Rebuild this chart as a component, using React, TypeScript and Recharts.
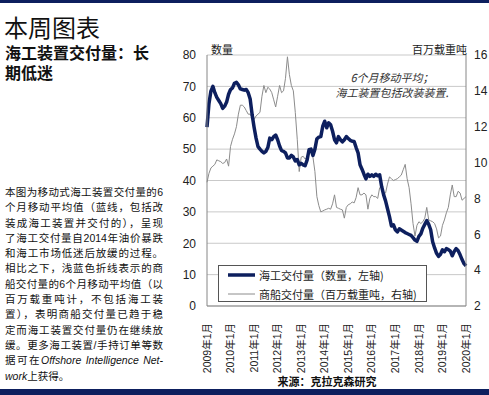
import { CartesianGrid, Line, LineChart, XAxis, YAxis } from "recharts";

// 6-month moving averages, monthly from 2009-01 to 2020-01
const offshoreUnits = [
  57, 64.5, 68.5, 70, 68, 66.5, 65.5, 64.5, 63, 63.7, 65, 67.5,
  69, 69.5, 71, 71.3, 70.5, 69.2, 69, 68.8, 69, 68, 66, 61,
  57, 53.5, 50.8, 50, 49.3, 48.8, 49.3, 50.5, 53.5, 53, 54, 54.5,
  53, 51, 49.5, 49.3, 48.8, 47.2, 47.2, 48, 47.5, 46.2, 46.7, 45,
  45.5, 45, 44.7, 46.5, 49.8, 50, 48, 50, 53.3, 53.8, 54, 57.3,
  58.9, 56.8, 58.4, 57.8, 55.7, 53, 52, 54, 53, 52.3, 53, 54,
  53.4, 52.8, 52.5, 52.4, 50.5, 48.8, 45, 43.6, 42, 40.5, 42, 41.3,
  41.8, 41.3, 42, 41.5, 41.8, 38.1, 35.5, 33.5, 31, 28.5, 25.5, 25.9,
  24.3, 23.6, 24.6, 24.2, 23.8, 23.4, 23.1, 22.8, 22.5, 21.8, 21, 20.6,
  22.2, 23, 24.8, 26, 27.2, 26, 24.3, 20.5, 18.5, 16.8, 15.8, 16.5,
  17.9, 17.3, 18.3, 18, 17.5, 16, 17.4, 18.3, 17.6, 16.3, 14.8, 13.5,
  12.8,
];

const merchantDwt = [
  8.9, 9.4, 9.7, 9.8, 9.9, 10.15, 10.1, 10.05, 9.95, 10, 10.2, 9.8,
  10.9, 11.3, 11.6, 12, 12.7, 13.2, 13.2, 13.1, 12.9, 12.7, 12.7, 12.5,
  12.4, 12.6, 12.7, 12.8, 13.7, 14.3, 13.9, 14.2, 14.1, 13.9, 13.5, 13.1,
  13.7, 14.3, 13.9, 14, 14.7, 15.9, 14.9, 14.3, 14, 12.8, 11.3, 9.5,
  10.3, 10.35, 10.2, 10.3, 10.6, 10.7, 10.3, 9.5, 8.1, 7.6, 7.25, 7.3,
  7.36, 7.4, 7.45, 7.4, 7.7, 8.2, 7.5, 7.45, 7.4, 7.36, 6.9, 7.5,
  7.65, 7.7, 7.8, 7.75, 8.05, 8.6, 8.2, 8.2, 8.3, 8.2, 7.4, 8,
  8.2, 8.1, 8.1, 8, 8.6, 8.7, 8.2, 8.3, 8.8, 9.2, 9.1, 9,
  9.05, 9.1, 9.2, 9.3, 9.6, 9.9, 9.1, 8.6, 7.7, 6.6, 5.9, 6.5,
  6.7, 6.6, 6.7, 6.9, 7.5, 6.8, 6.75, 6.7, 6.6, 6.3, 5.8, 5.9,
  6.5, 6.8, 7.2, 7.5, 8.2, 8.75, 8.1, 8.1, 8.4, 8.3, 7.9, 8,
  8.1,
];

const firstYear = 2009;
const monthLabels = offshoreUnits.map(
  (_, i) => `${firstYear + Math.floor(i / 12)}年${(i % 12) + 1}月`
);

const leftTicks = [0, 10, 20, 30, 40, 50, 60, 70, 80];
const rightTicks = [2, 4, 6, 8, 10, 12, 14, 16];

const seriesNames = ["海工交付量（数量，左轴)", "商船交付量（百万载重吨，右轴)"];

const paragraphLines = [
  "本图为移动式海工装置交付量的6",
  "个月移动平均值（蓝线，包括改",
  "装成海工装置并交付的），呈现",
  "了海工交付量自2014年油价暴跌",
  "和海工市场低迷后放缓的过程。",
  "相比之下，浅蓝色折线表示的商",
  "船交付量的6个月移动平均值（以",
  "百万载重吨计，不包括海工装",
  "置），表明商船交付量已趋于稳",
  "定而海工装置交付量仍在继续放",
  "缓。更多海工装置/手持订单等数",
];

const data = monthLabels.map((month, i) => ({
  month,
  offshore: offshoreUnits[i],
  merchant: merchantDwt[i],
}));

const NAVY = "#0d1f5e";
const GREY = "#8c8c8c";
const AXIS = "#868686";
const CJK = "'Noto Sans CJK SC', sans-serif";
const MIXED = "'Liberation Sans', 'Noto Sans CJK SC', sans-serif";

function MonthTick({ x, y, payload }: any) {
  return (
    <text
      x={x}
      y={y + 9}
      transform={`rotate(-90, ${x}, ${y + 9})`}
      textAnchor="end"
      dy="0.35em"
      fontSize={10.5}
      fill="#222"
      fontFamily={MIXED}
    >
      {payload.value}
    </text>
  );
}

export default function App() {
  return (
    <div
      style={{
        position: "absolute",
        left: 0,
        top: 0,
        width: 489,
        height: 395,
        background: "#fff",
        overflow: "hidden",
        fontFamily: CJK,
        color: "#111",
      }}
    >
      <div style={{ position: "absolute", left: 0, top: 0, width: 489, height: 3, background: NAVY }} />
      <div style={{ position: "absolute", left: 0, top: 389, width: 489, height: 6, background: NAVY }} />

      <div style={{ position: "absolute", left: 4, top: 14, fontSize: 24, lineHeight: "26px" }}>本周图表</div>
      <div style={{ position: "absolute", left: 5, top: 42, fontSize: 16, fontWeight: 700, lineHeight: "20px" }}>
        <div>海工装置交付量：长</div>
        <div>期低迷</div>
      </div>

      <div
        style={{
          position: "absolute",
          left: 5,
          top: 185,
          width: 158,
          fontSize: 10.5,
          lineHeight: "15.3px",
          fontFamily: MIXED,
        }}
      >
        {paragraphLines.map((line) => (
          <div key={line} style={{ textAlign: "justify", textAlignLast: "justify", whiteSpace: "nowrap" }}>
            {line}
          </div>
        ))}
        <div style={{ textAlign: "justify", textAlignLast: "justify", whiteSpace: "nowrap" }}>
          据可在<i>Offshore Intelligence Net-</i>
        </div>
        <div style={{ whiteSpace: "nowrap" }}>
          <i>work</i>上获得。
        </div>
      </div>

      <div style={{ position: "absolute", left: 170, top: 0 }}>
        <LineChart
          width={319}
          height={395}
          data={data}
          margin={{ top: 55, right: 0, bottom: 29, left: 0 }}
        >
          <CartesianGrid yAxisId="left" vertical={false} horizontal stroke="#c9c9c9" />
          <XAxis
            dataKey="month"
            interval={11}
            height={60}
            tickLine={false}
            axisLine={{ stroke: AXIS }}
            tick={<MonthTick />}
          />
          <YAxis
            yAxisId="left"
            width={37}
            domain={[0, 80]}
            ticks={leftTicks}
            tickLine={false}
            tickSize={6}
            tickMargin={5}
            axisLine={{ stroke: AXIS }}
            tick={{ fontSize: 12, fill: "#222", fontFamily: MIXED }}
          />
          <YAxis
            yAxisId="right"
            orientation="right"
            width={23}
            domain={[2, 16]}
            ticks={rightTicks}
            tickLine={false}
            tickSize={6}
            tickMargin={2}
            axisLine={{ stroke: AXIS }}
            tick={{ fontSize: 12, fill: "#222", fontFamily: MIXED }}
          />
          <Line
            yAxisId="right"
            type="linear"
            dataKey="merchant"
            name={seriesNames[1]}
            stroke={GREY}
            strokeWidth={1}
            dot={false}
            isAnimationActive={false}
          />
          <Line
            yAxisId="left"
            type="linear"
            dataKey="offshore"
            name={seriesNames[0]}
            stroke={NAVY}
            strokeWidth={3.5}
            strokeLinejoin="round"
            dot={false}
            isAnimationActive={false}
          />
        </LineChart>
      </div>

      <div style={{ position: "absolute", left: 211, top: 42, fontSize: 11, lineHeight: "14px", color: "#222" }}>数量</div>
      <div style={{ position: "absolute", right: 489 - 467, top: 42, fontSize: 11, lineHeight: "14px", color: "#222" }}>
        百万载重吨
      </div>

      <div
        style={{
          position: "absolute",
          left: 325,
          top: 70,
          width: 134,
          textAlign: "center",
          fontSize: 11,
          lineHeight: "15px",
          fontStyle: "italic",
          color: "#333",
        }}
      >
        <div>6个月移动平均；</div>
        <div>海工装置包括改装装置.</div>
      </div>

      <div
        style={{
          position: "absolute",
          left: 218,
          top: 265,
          width: 207,
          height: 35,
          border: "1px solid #555",
          background: "#fff",
          fontSize: 11,
          color: "#222",
        }}
      >
        {seriesNames.map((name, i) => (
          <div key={name} style={{ position: "absolute", left: 9, top: i === 0 ? 1 : 20, height: 16, display: "flex", alignItems: "center" }}>
            <svg width={27} height={6} style={{ marginRight: 4 }}>
              <line x1={0} y1={3} x2={27} y2={3} stroke={i === 0 ? NAVY : GREY} strokeWidth={i === 0 ? 3.5 : 1} />
            </svg>
            <span style={{ whiteSpace: "nowrap" }}>{name}</span>
          </div>
        ))}
      </div>

      <div
        style={{
          position: "absolute",
          left: 270,
          top: 373,
          width: 114,
          textAlign: "center",
          fontSize: 11,
          fontWeight: 700,
          lineHeight: "16px",
          color: "#111",
        }}
      >
        来源：克拉克森研究
      </div>
    </div>
  );
}
